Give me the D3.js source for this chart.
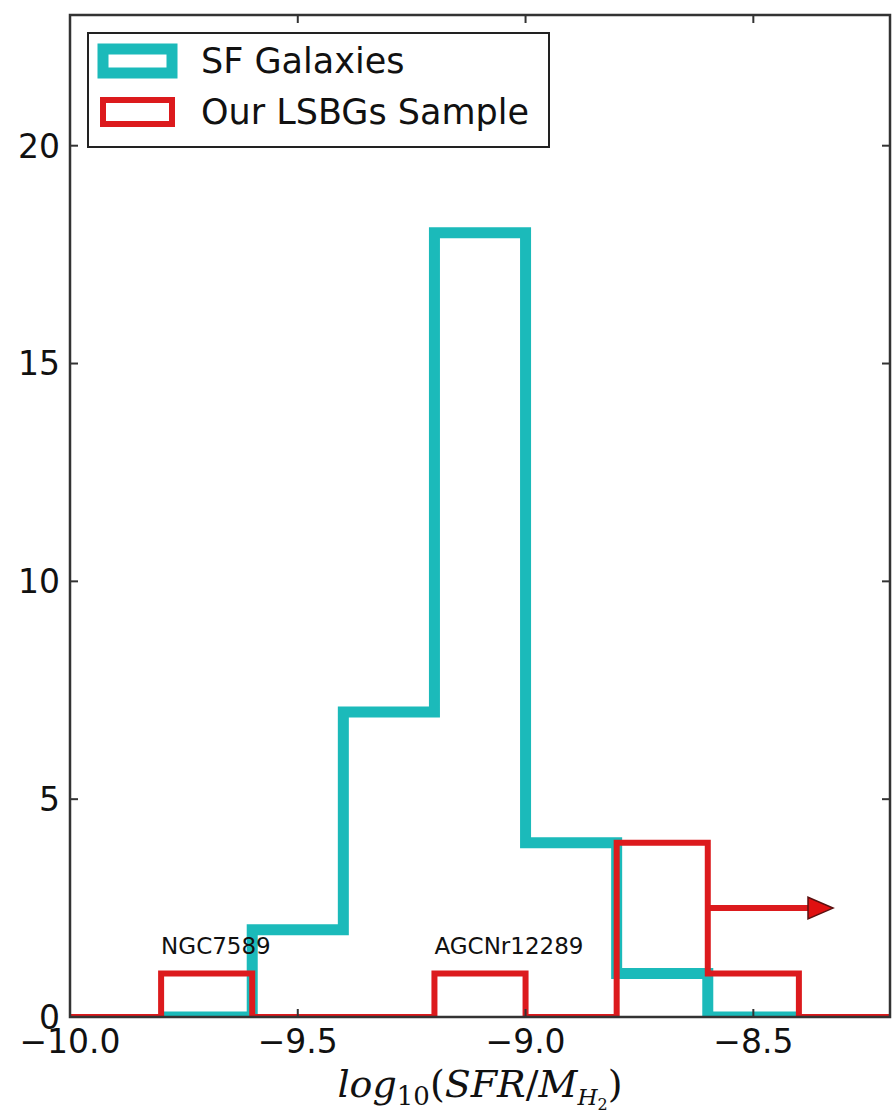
<!DOCTYPE html>
<html>
<head>
<meta charset="utf-8">
<script src="https://d3js.org/d3.v7.min.js"></script>
<style>
  body { margin: 0; background: #fff; }
  svg { display: block; }
</style>
</head>
<body>
<script>
// histogram bin edges and counts
var sfEdges = [-9.8, -9.6, -9.4, -9.2, -9.0, -8.8, -8.6, -8.4];
var sfCounts = [0, 2, 7, 18, 4, 1, 0];
var lsbEdges = [-10.0, -9.8, -9.6, -9.4, -9.2, -9.0, -8.8, -8.6, -8.4, -8.2];
var lsbCounts = [0, 1, 0, 0, 1, 0, 4, 1, 0];

var xTicks = [-10.0, -9.5, -9.0, -8.5];
var yTicks = [0, 5, 10, 15, 20];

// annotations + lower-limit arrow
var labels = [
  {name: "NGC7589", x: -9.8, y: 1.45},
  {name: "AGCNr12289", x: -9.2, y: 1.45}
];
var arrow = {x: -8.6, y: 2.5, dx: 0.22, headLen: 0.055, headW: 0.5};

var legendItems = [
  {name: "SF Galaxies", color: "#1bbaba", width: 11},
  {name: "Our LSBGs Sample", color: "#dc1a1d", width: 6}
];

var width = 892, height = 1117;
var padL = 70, padR = 890, padT = 15, padB = 1017;

var svg = d3.select("body").append("svg")
  .attr("width", width)
  .attr("height", height);

var x = d3.scaleLinear().domain([-10, -8.2]).range([padL, padR]);
var y = d3.scaleLinear().domain([0, 23]).range([padB, padT]);

svg.append("defs").append("clipPath")
  .attr("id", "plot-clip")
  .append("rect")
  .attr("x", padL).attr("y", padT)
  .attr("width", padR - padL).attr("height", padB - padT);

function stepPoints(edges, counts) {
  var pts = [[edges[0], 0]];
  counts.forEach(function(c, i) {
    pts.push([edges[i], c]);
    pts.push([edges[i + 1], c]);
  });
  pts.push([edges[edges.length - 1], 0]);
  return pts;
}

var line = d3.line()
  .x(function(d) { return x(d[0]); })
  .y(function(d) { return y(d[1]); });

var plot = svg.append("g").attr("clip-path", "url(#plot-clip)");

plot.append("path")
  .attr("d", line(stepPoints(sfEdges, sfCounts)))
  .attr("fill", "none")
  .attr("stroke", legendItems[0].color)
  .attr("stroke-width", 11)
  .attr("stroke-linejoin", "miter");

plot.append("path")
  .attr("d", line(stepPoints(lsbEdges, lsbCounts)))
  .attr("fill", "none")
  .attr("stroke", legendItems[1].color)
  .attr("stroke-width", 6)
  .attr("stroke-linejoin", "miter");

// arrow (shaft + head)
var shaftEnd = arrow.x + arrow.dx;
plot.append("line")
  .attr("x1", x(arrow.x)).attr("x2", x(shaftEnd))
  .attr("y1", y(arrow.y)).attr("y2", y(arrow.y))
  .attr("stroke", "#dc1a1d")
  .attr("stroke-width", 6);

plot.append("path")
  .attr("d", "M" + x(shaftEnd) + "," + y(arrow.y + arrow.headW / 2) +
             "L" + x(shaftEnd + arrow.headLen) + "," + y(arrow.y) +
             "L" + x(shaftEnd) + "," + y(arrow.y - arrow.headW / 2) + "Z")
  .attr("fill", "#e01010")
  .attr("stroke", "#5a1010")
  .attr("stroke-width", 1.5);

svg.selectAll(".anno")
  .data(labels)
  .enter()
  .append("text")
  .attr("class", "anno")
  .attr("x", function(d) { return x(d.x); })
  .attr("y", function(d) { return y(d.y); })
  .style("font", "23px 'DejaVu Sans', sans-serif")
  .attr("fill", "#111")
  .text(function(d) { return d.name; });

// frame
svg.append("rect")
  .attr("x", padL).attr("y", padT)
  .attr("width", padR - padL).attr("height", padB - padT)
  .attr("fill", "none")
  .attr("stroke", "#333")
  .attr("stroke-width", 2.5);

// inward ticks on all sides
var tickLen = 8;
var tk = svg.append("g").attr("stroke", "#333").attr("stroke-width", 2);
xTicks.forEach(function(t) {
  tk.append("line").attr("x1", x(t)).attr("x2", x(t)).attr("y1", padB).attr("y2", padB - tickLen);
  tk.append("line").attr("x1", x(t)).attr("x2", x(t)).attr("y1", padT).attr("y2", padT + tickLen);
});
yTicks.forEach(function(t) {
  tk.append("line").attr("x1", padL).attr("x2", padL + tickLen).attr("y1", y(t)).attr("y2", y(t));
  tk.append("line").attr("x1", padR).attr("x2", padR - tickLen).attr("y1", y(t)).attr("y2", y(t));
});

svg.selectAll(".xlab")
  .data(xTicks)
  .enter()
  .append("text")
  .attr("class", "xlab")
  .attr("x", function(d) { return x(d); })
  .attr("y", 1053)
  .attr("text-anchor", "middle")
  .style("font", "33px 'DejaVu Sans', sans-serif")
  .attr("fill", "#111")
  .text(function(d) { return d3.format(".1f")(d).replace("-", "\u2212"); });

svg.selectAll(".ylab")
  .data(yTicks)
  .enter()
  .append("text")
  .attr("class", "ylab")
  .attr("x", 60)
  .attr("y", function(d) { return y(d); })
  .attr("dy", "0.36em")
  .attr("text-anchor", "end")
  .style("font", "33px 'DejaVu Sans', sans-serif")
  .attr("fill", "#111")
  .text(function(d) { return d; });

// x axis label
var xl = svg.append("text")
  .attr("x", (padL + padR) / 2)
  .attr("y", 1097)
  .attr("text-anchor", "middle")
  .style("font", "italic 38px 'DejaVu Serif', serif")
  .attr("fill", "#111");
xl.append("tspan").text("log");
xl.append("tspan").attr("dy", 8).style("font-size", "26px").style("font-style", "normal").text("10");
xl.append("tspan").attr("dy", -8).style("font-style", "normal").text("(");
xl.append("tspan").text("SFR");
xl.append("tspan").style("font-style", "normal").text("/");
xl.append("tspan").text("M");
xl.append("tspan").attr("dy", 8).style("font-size", "23px").text("H");
xl.append("tspan").attr("dy", 5).style("font-size", "16px").style("font-style", "normal").text("2");
xl.append("tspan").attr("dy", -13).style("font-style", "normal").text(")");

// legend
var lg = svg.append("g");
lg.append("rect")
  .attr("x", 88).attr("y", 33)
  .attr("width", 461).attr("height", 114)
  .attr("fill", "#fff")
  .attr("stroke", "#222")
  .attr("stroke-width", 2);

var rowY = [61, 112];
legendItems.forEach(function(d, i) {
  lg.append("rect")
    .attr("x", 103).attr("y", rowY[i] - 12)
    .attr("width", 69).attr("height", 24)
    .attr("fill", "none")
    .attr("stroke", d.color)
    .attr("stroke-width", d.width);
  lg.append("text")
    .attr("x", 201).attr("y", rowY[i] + 12)
    .style("font", "35px 'DejaVu Sans', sans-serif")
    .attr("fill", "#111")
    .text(d.name);
});
</script>
</body>
</html>
